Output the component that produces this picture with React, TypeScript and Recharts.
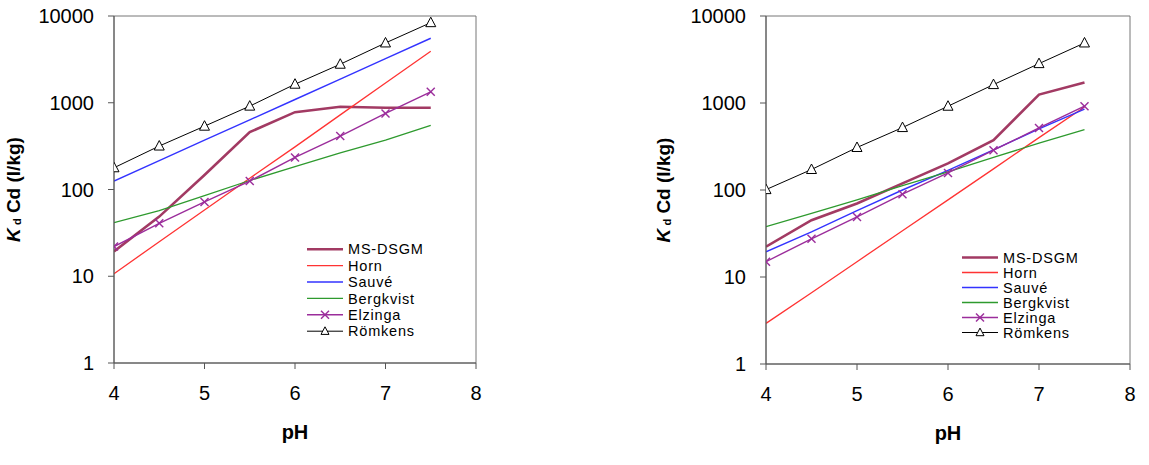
import React from 'react';
import { LineChart, Line, XAxis, YAxis, ReferenceArea, Legend, Label } from 'recharts';

const PH = [4, 4.5, 5, 5.5, 6, 6.5, 7, 7.5];
const X_TICKS = [4, 5, 6, 7, 8];
const Y_TICKS = [1, 10, 100, 1000, 10000];

// Left panel
const MS_LEFT = [19.3, 48.7, 147, 459, 779, 898, 874, 874];
const HORN_LEFT = [10.7, 25, 58, 135, 310, 725, 1690, 3920];
const SAUVE_LEFT = [125, 215, 370, 635, 1090, 1875, 3220, 5540];
const BERG_LEFT = [41.5, 57, 85, 127, 183, 265, 371, 547];
const ELZ_LEFT = [22, 40.8, 71.8, 125, 234, 413, 752, 1336];
const ROM_LEFT = [178, 317, 537, 914, 1636, 2780, 4890, 8380];

// Right panel
const MS_RIGHT = [22.3, 45, 70, 119, 202, 373, 1250, 1716];
const HORN_RIGHT = [2.93, 6.6, 15, 34, 77, 175, 400, 900];
const SAUVE_RIGHT = [19.5, 33, 58, 100, 168, 290, 505, 850];
const BERG_RIGHT = [38, 54, 77, 112, 162, 237, 345, 495];
const ELZ_RIGHT = [15, 27.5, 49, 89.6, 157, 287, 517, 918];
const ROM_RIGHT = [101, 172, 308, 522, 918, 1628, 2836, 4898];

const FONT = '"Liberation Sans", Arial, Helvetica, sans-serif';

type Style = { key: string; name: string; color: string; width: number; marker?: 'x' | 'tri' };
const STYLES: Style[] = [
  { key: 'ms', name: 'MS-DSGM', color: '#A23A63', width: 2.6 },
  { key: 'horn', name: 'Horn', color: '#FF3333', width: 1.3 },
  { key: 'sauve', name: 'Sauvé', color: '#3333FF', width: 1.4 },
  { key: 'berg', name: 'Bergkvist', color: '#2E9A2E', width: 1.3 },
  { key: 'elz', name: 'Elzinga', color: '#9B2D9B', width: 1.4, marker: 'x' },
  { key: 'rom', name: 'Römkens', color: '#000000', width: 1, marker: 'tri' },
];

function buildRows(ms: number[], horn: number[], sauve: number[], berg: number[], elz: number[], rom: number[]) {
  return PH.map((p, i) => ({ pH: p, ms: ms[i], horn: horn[i], sauve: sauve[i], berg: berg[i], elz: elz[i], rom: rom[i] }));
}

const LEFT_ROWS = buildRows(MS_LEFT, HORN_LEFT, SAUVE_LEFT, BERG_LEFT, ELZ_LEFT, ROM_LEFT);
const RIGHT_ROWS = buildRows(MS_RIGHT, HORN_RIGHT, SAUVE_RIGHT, BERG_RIGHT, ELZ_RIGHT, ROM_RIGHT);

function XShape({ cx, cy, color }: { cx: number; cy: number; color: string }) {
  const r = 4;
  return (
    <g>
      <line x1={cx - r} y1={cy - r} x2={cx + r} y2={cy + r} stroke={color} strokeWidth={1.4} />
      <line x1={cx - r} y1={cy + r} x2={cx + r} y2={cy - r} stroke={color} strokeWidth={1.4} />
    </g>
  );
}

function TriShape({ cx, cy, s = 1 }: { cx: number; cy: number; s?: number }) {
  return (
    <polygon
      points={`${cx},${cy - 5.5 * s} ${cx - 5 * s},${cy + 4 * s} ${cx + 5 * s},${cy + 4 * s}`}
      fill="#fff"
      stroke="#000"
      strokeWidth={1}
    />
  );
}

function makeDot(s: Style) {
  if (!s.marker) return false as const;
  return (props: any) => {
    const { cx, cy, index } = props;
    if (cx == null || cy == null) return <g key={`d-${s.key}-${index}`} />;
    return (
      <g key={`d-${s.key}-${index}`}>
        {s.marker === 'x' ? <XShape cx={cx} cy={cy} color={s.color} /> : <TriShape cx={cx} cy={cy} />}
      </g>
    );
  };
}

function LegendBox({ rowH }: { rowH: number }) {
  return (
    <svg width={150} height={rowH * 6 + 4} style={{ overflow: 'visible', display: 'block' }}>
      {STYLES.map((s, i) => {
        const y = i * rowH + rowH / 2;
        return (
          <g key={s.key}>
            <line x1={0} x2={36} y1={y} y2={y} stroke={s.color} strokeWidth={s.width} />
            {s.marker === 'x' && <XShape cx={18} cy={y} color={s.color} />}
            {s.marker === 'tri' && <TriShape cx={18} cy={y} s={0.8} />}
            <text x={41} y={y} dy="0.36em" fontSize={14.5} letterSpacing={0.8} fontFamily={FONT} fill="#000">
              {s.name}
            </text>
          </g>
        );
      })}
    </svg>
  );
}

const XLabel = (props: any) => {
  const vb = props.viewBox || {};
  return (
    <text x={vb.x + vb.width / 2} y={vb.y + 76} textAnchor="middle" fontSize={20} fontWeight="bold" fontFamily={FONT} fill="#000">
      pH
    </text>
  );
};

const YLabel = (props: any) => {
  const vb = props.viewBox || {};
  const cx = 13;
  const cy = vb.y + vb.height / 2;
  return (
    <text
      x={0}
      y={0}
      transform={`translate(${cx},${cy}) rotate(-90)`}
      textAnchor="middle"
      dominantBaseline="central"
      fontSize={19}
      fontWeight="bold"
      fontFamily={FONT}
      fill="#000"
    >
      <tspan fontStyle="italic">K</tspan>
      <tspan fontSize={11} dy={4}> d</tspan>
      <tspan dy={-4}> Cd (l/kg)</tspan>
    </text>
  );
};

type PanelProps = {
  left: number;
  width: number;
  yAxisWidth: number;
  rightMargin: number;
  xAxisHeight: number;
  rows: any[];
  legendLeft: number;
  legendTop: number;
  rowH: number;
};

function Panel({ left, width, yAxisWidth, rightMargin, xAxisHeight, rows, legendLeft, legendTop, rowH }: PanelProps) {
  return (
    <div style={{ position: 'absolute', left, top: 0 }}>
      <LineChart width={width} height={465} data={rows} margin={{ top: 16, right: rightMargin, left: 0, bottom: 0 }}>
        <XAxis
          dataKey="pH"
          type="number"
          domain={[4, 8]}
          ticks={X_TICKS}
          allowDataOverflow
          height={xAxisHeight}
          tickSize={6}
          tickMargin={17}
          axisLine={{ stroke: '#555' }}
          tickLine={{ stroke: '#555' }}
          tick={{ fill: '#000', fontSize: 20, fontFamily: FONT }}
        >
          <Label content={XLabel} />
        </XAxis>
        <YAxis
          type="number"
          scale="log"
          domain={[1, 10000]}
          ticks={Y_TICKS}
          allowDataOverflow
          width={yAxisWidth}
          tickSize={6}
          tickMargin={14}
          axisLine={{ stroke: '#555' }}
          tickLine={{ stroke: '#555' }}
          tick={{ fill: '#000', fontSize: 20, fontFamily: FONT }}
        >
          <Label content={YLabel} />
        </YAxis>
        <ReferenceArea x1={4} x2={8} y1={1} y2={10000} fill="none" stroke="#777" strokeWidth={1} ifOverflow="visible" />
        {STYLES.map((s) => (
          <Line
            key={s.key}
            dataKey={s.key}
            name={s.name}
            type="linear"
            stroke={s.color}
            strokeWidth={s.width}
            dot={makeDot(s) as any}
            activeDot={false}
            isAnimationActive={false}
          />
        ))}
        <Legend
          layout="vertical"
          align="center"
          verticalAlign="middle"
          content={() => <LegendBox rowH={rowH} />}
          wrapperStyle={{ left: legendLeft, top: legendTop, width: 150, height: rowH * 6 + 4 }}
        />
      </LineChart>
    </div>
  );
}

export default function App() {
  return (
    <div style={{ position: 'absolute', left: 0, top: 0, width: 1149, height: 465, background: '#fff' }}>
      <Panel
        left={0}
        width={500}
        yAxisWidth={114}
        rightMargin={24}
        xAxisHeight={102}
        rows={LEFT_ROWS}
        legendLeft={307}
        legendTop={241}
        rowH={16.4}
      />
      <Panel
        left={650}
        width={499}
        yAxisWidth={116}
        rightMargin={19}
        xAxisHeight={101}
        rows={RIGHT_ROWS}
        legendLeft={312}
        legendTop={249.5}
        rowH={15}
      />
    </div>
  );
}
